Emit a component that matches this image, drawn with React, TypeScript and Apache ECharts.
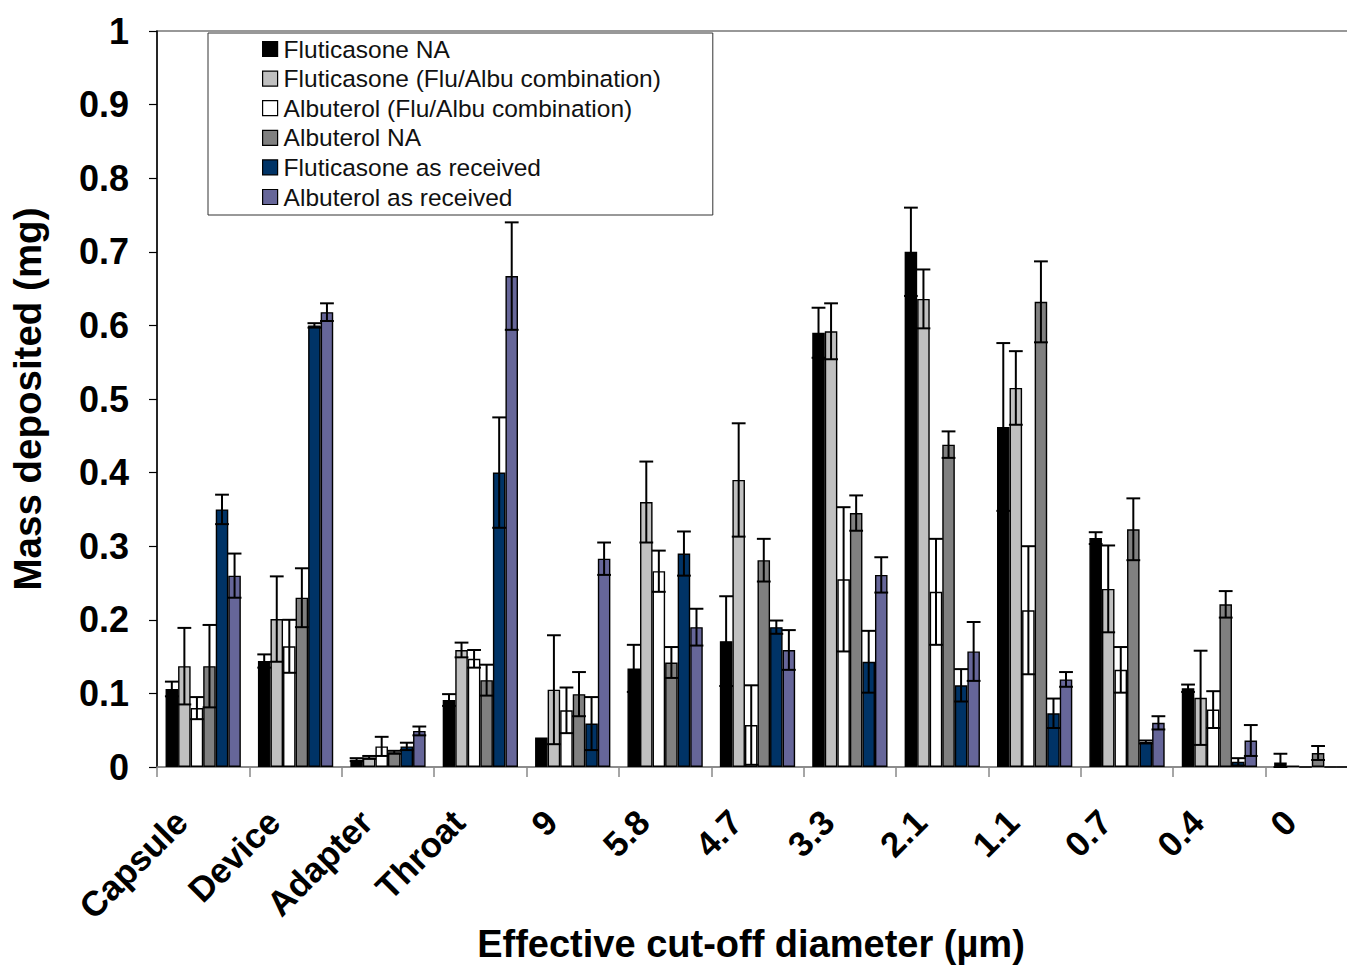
import React, { useEffect, useRef } from "react";
import * as echarts from "echarts";

const categories = ["Capsule", "Device", "Adapter", "Throat", "9", "5.8", "4.7", "3.3", "2.1", "1.1", "0.7", "0.4", "0"];
const yTicks = [0, 0.1, 0.2, 0.3, 0.4, 0.5, 0.6, 0.7, 0.8, 0.9, 1];

const seriesNames = [
  "Fluticasone NA",
  "Fluticasone (Flu/Albu combination)",
  "Albuterol (Flu/Albu combination)",
  "Albuterol NA",
  "Fluticasone as received",
  "Albuterol as received",
];
const seriesColors = ["#000000", "#c0c0c0", "#ffffff", "#808080", "#003366", "#666699"];

const fluNA = [0.106, 0.144, 0.010, 0.091, 0.040, 0.134, 0.171, 0.590, 0.700, 0.462, 0.311, 0.107, 0.006];
const fluNAErr = [0.010, 0.009, 0.002, 0.008, 0, 0.032, 0.061, 0.034, 0.060, 0.114, 0.008, 0.005, 0.012];

const fluCombo = [0.137, 0.201, 0.013, 0.159, 0.105, 0.360, 0.390, 0.592, 0.636, 0.515, 0.242, 0.094, 0.002];
const fluComboErr = [0.052, 0.058, 0.002, 0.010, 0.074, 0.055, 0.077, 0.038, 0.040, 0.050, 0.059, 0.064, 0];

const albCombo = [0.080, 0.164, 0.028, 0.147, 0.077, 0.266, 0.057, 0.255, 0.238, 0.213, 0.132, 0.078, 0];
const albComboErr = [0.015, 0.036, 0.013, 0.012, 0.031, 0.028, 0.054, 0.098, 0.072, 0.087, 0.031, 0.025, 0];

const albNA = [0.137, 0.230, 0.020, 0.118, 0.099, 0.142, 0.281, 0.345, 0.438, 0.632, 0.323, 0.221, 0.019];
const albNAErr = [0.056, 0.040, 0.002, 0.021, 0.030, 0.021, 0.029, 0.024, 0.018, 0.055, 0.042, 0.018, 0.0095];

const fluRecv = [0.350, 0.600, 0.028, 0.400, 0.059, 0.290, 0.190, 0.143, 0.111, 0.073, 0.034, 0.007, 0];
const fluRecvErr = [0.020, 0.003, 0.005, 0.075, 0.036, 0.030, 0.009, 0.042, 0.022, 0.020, 0.002, 0.005, 0];

const albRecv = [0.260, 0.618, 0.049, 0.667, 0.283, 0.190, 0.159, 0.261, 0.157, 0.119, 0.060, 0.036, 0];
const albRecvErr = [0.030, 0.012, 0.006, 0.073, 0.022, 0.025, 0.027, 0.024, 0.040, 0.010, 0.009, 0.021, 0];

const allValues = [fluNA, fluCombo, albCombo, albNA, fluRecv, albRecv];
const allErrors = [fluNAErr, fluComboErr, albComboErr, albNAErr, fluRecvErr, albRecvErr];

const FONT = "'Liberation Sans', Arial, sans-serif";
const CAT_GAP = 0.185;
const N = seriesNames.length;

export default function App() {
  const ref = useRef<HTMLDivElement>(null);

  useEffect(() => {
    if (!ref.current) return;
    const chart = echarts.init(ref.current, undefined, { renderer: "svg" });

    const barSeries = seriesNames.map((name, s) => ({
      name,
      type: "bar",
      data: allValues[s],
      barGap: "0%",
      barCategoryGap: (CAT_GAP * 100) + "%",
      itemStyle: { color: seriesColors[s], borderColor: "#000", borderWidth: 1.4 },
      z: 2,
    }));

    const errSeries = seriesNames.map((_, s) => ({
      name: "err" + s,
      type: "custom",
      z: 5,
      data: categories.map((_, i) => [i, allValues[s][i], allErrors[s][i]]),
      encode: { x: 0, y: 1 },
      renderItem: (params: any, api: any) => {
        const idx = api.value(0);
        const v = api.value(1);
        const e = api.value(2);
        if (!e) return null;
        const band = api.size([1, 0])[0];
        const bw = (band * (1 - CAT_GAP)) / N;
        const cx = api.coord([idx, 0])[0] - (N / 2) * bw + (s + 0.5) * bw;
        const yTop = api.coord([idx, v + e])[1];
        const yBot = api.coord([idx, Math.max(v - e, 0)])[1];
        const half = bw * 0.55;
        const st = { stroke: "#000", lineWidth: 2 };
        return {
          type: "group",
          children: [
            { type: "line", shape: { x1: cx, y1: yTop, x2: cx, y2: yBot }, style: st },
            { type: "line", shape: { x1: cx - half, y1: yTop, x2: cx + half, y2: yTop }, style: st },
            { type: "line", shape: { x1: cx - half, y1: yBot, x2: cx + half, y2: yBot }, style: st },
          ],
        };
      },
    }));

    chart.setOption({
      animation: false,
      backgroundColor: "#ffffff",
      textStyle: { fontFamily: FONT },
      grid: {
        left: 157,
        top: 31,
        width: 1201,
        height: 736,
        show: true,
        borderColor: "#777",
        borderWidth: 1.5,
        containLabel: false,
        outerBoundsMode: "none",
      },
      legend: {
        data: seriesNames,
        orient: "vertical",
        left: 208,
        top: 33,
        padding: [3, 52, 5, 54],
        itemGap: 3.6,
        itemWidth: 15,
        itemHeight: 15,
        itemStyle: { borderColor: "#000", borderWidth: 1.2 },
        icon: "rect",
        backgroundColor: "#fff",
        borderColor: "#333",
        borderWidth: 1,
        selectedMode: false,
        textStyle: { fontFamily: FONT, fontSize: 24.5, color: "#111", lineHeight: 26, padding: [0, 0, 0, 1] },
        z: 10,
      },
      xAxis: {
        type: "category",
        data: categories,
        axisLine: { lineStyle: { color: "#888", width: 1.5 } },
        axisTick: { show: true, length: 10, lineStyle: { color: "#888", width: 1.5 } },
        axisLabel: {
          interval: 0,
          rotate: 45,
          fontSize: 35,
          fontWeight: "bold",
          color: "#000",
          fontFamily: FONT,
          margin: 27,
          padding: [0, 31, 0, 0],
        },
        name: "Effective cut-off diameter (µm)",
        nameLocation: "middle",
        nameGap: 158,
        nameMoveOverlap: false,
        nameTextStyle: { fontSize: 38, fontWeight: "bold", color: "#000", fontFamily: FONT, padding: [0, 13, 0, 0] },
      },
      yAxis: {
        type: "value",
        min: 0,
        max: 1,
        interval: 0.1,
        splitLine: { show: false },
        axisLine: { show: true, lineStyle: { color: "#000", width: 1.5 } },
        axisTick: { show: true, length: 8, lineStyle: { color: "#000", width: 1.2 } },
        axisLabel: {
          fontSize: 36,
          fontWeight: "bold",
          color: "#000",
          fontFamily: FONT,
          margin: 28,
          formatter: (v: number) => {
            const t = yTicks.find((k) => Math.abs(k - v) < 1e-6);
            return t === undefined ? "" : String(t);
          },
        },
        name: "Mass deposited (mg)",
        nameLocation: "middle",
        nameGap: 110,
        nameMoveOverlap: false,
        nameTextStyle: { fontSize: 38.5, fontWeight: "bold", color: "#000", fontFamily: FONT },
      },
      series: [...barSeries, ...errSeries],
    });

    return () => chart.dispose();
  }, []);

  return (
    <div
      ref={ref}
      style={{ position: "fixed", left: 0, top: 0, width: 1347, height: 966, background: "#fff" }}
    />
  );
}
